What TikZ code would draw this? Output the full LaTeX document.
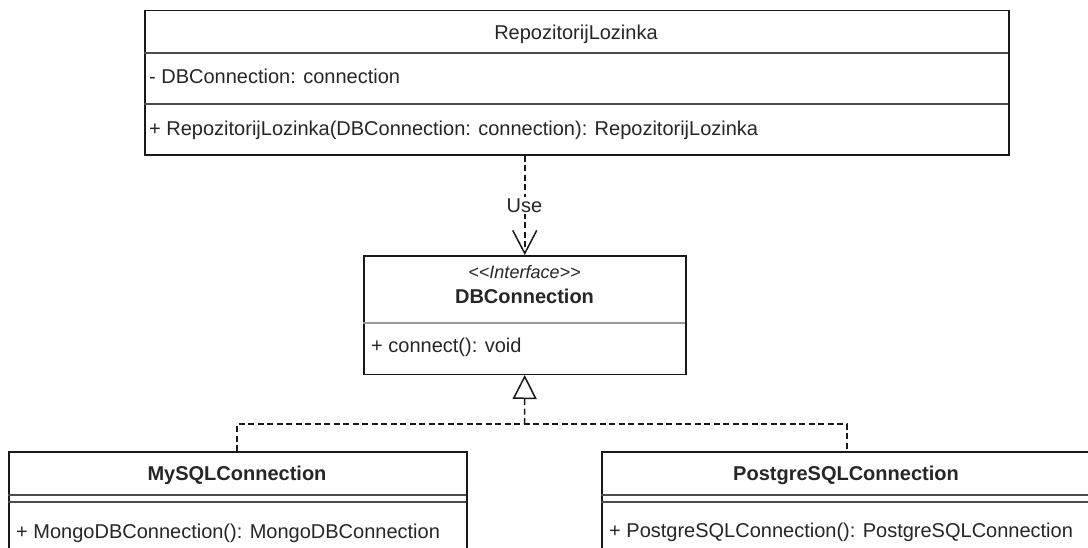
\documentclass[tikz,border=0pt]{standalone}
\usepackage{fontspec}
\setmainfont{Liberation Sans}
\usetikzlibrary{arrows.meta}
\begin{document}
\begin{tikzpicture}[x=1pt,y=-1pt,
  box/.style={draw=black!90, line width=1.5pt, fill=white, inner sep=0pt, anchor=north west},
  sepline/.style={draw=black!70, line width=1.5pt},
  lightsep/.style={draw=black!40, line width=1.2pt},
  txt/.style={font=\fontsize{20}{24}\selectfont, text=black!85, inner sep=0pt},
  txtL/.style={txt, anchor=base west},
  txtC/.style={txt, anchor=base},
  dashline/.style={draw=black!90, line width=1.5pt, dash pattern=on 6pt off 3.5pt},
  usearrow/.style={dashline, -{Straight Barb[length=23pt, width=24pt, line width=1.5pt]}},
  realizes/.style={dashline, -{Triangle[open, length=24pt, width=24pt, line width=1.5pt, fill=white]}}
]
\useasboundingbox (0,0) rectangle (1088,547);

% RepozitorijLozinka
\node[box, minimum width=864pt, minimum height=144.5pt] (repo) at (144,9.5) {};
\draw[sepline] (repo.north west) ++(0,43.5) -- ++(864,0);
\draw[sepline] (repo.north west) ++(0,94.5) -- ++(864,0);
\node[txtC] (repoName) at (576,39) {RepozitorijLozinka};
\node[txtL] (repoAttr) at (149,83) {- DBConnection: connection};
\node[txtL] (repoOp) at (149,135) {+ RepozitorijLozinka(DBConnection: connection): RepozitorijLozinka};

% DBConnection interface
\node[box, minimum width=322pt, minimum height=118.5pt] (iface) at (363,255) {};
\draw[lightsep] (iface.north west) ++(0,68) -- ++(322,0);
\node[txtC, font=\fontsize{18}{21}\selectfont\itshape] (ifaceStereo) at (524.5,278) {{<}{<}Interface{>}{>}};
\node[txtC, font=\fontsize{20}{24}\selectfont\bfseries] (ifaceName) at (524.5,303) {DBConnection};
\node[txtL] (ifaceOp) at (371,352) {+ connect(): void};

% MySQLConnection
\node[box, minimum width=458pt, minimum height=200pt] (mysql) at (8,451) {};
\draw[sepline] (mysql.north west) ++(0,44) -- ++(458,0);
\draw[sepline] (mysql.north west) ++(0,51) -- ++(458,0);
\node[txtC, font=\fontsize{20}{24}\selectfont\bfseries] (mysqlName) at (237,480) {MySQLConnection};
\node[txtL] (mysqlOp) at (16,538) {+ MongoDBConnection(): MongoDBConnection};

% PostgreSQLConnection
\node[box, minimum width=490pt, minimum height=200pt] (pg) at (601,451) {};
\draw[sepline] (pg.north west) ++(0,44) -- ++(490,0);
\draw[sepline] (pg.north west) ++(0,51) -- ++(490,0);
\node[txtC, font=\fontsize{20}{24}\selectfont\bfseries] (pgName) at (846,480) {PostgreSQLConnection};
\node[txtL] (pgOp) at (609,537) {+ PostgreSQLConnection(): PostgreSQLConnection};

% Use dependency
\draw[usearrow] (iface.north |- repo.south) -- (iface.north);
\node[txtC, fill=white, inner sep=1.5pt] (useLbl) at (524.5,212) {Use};

% Realization
\coordinate (junction) at (524.5,424);
\draw[dashline] (mysql.north -| 237,0) |- (junction) -| (pg.north -| 847,0);
\draw[realizes] (junction) -- (iface.south);
\end{tikzpicture}
\end{document}
